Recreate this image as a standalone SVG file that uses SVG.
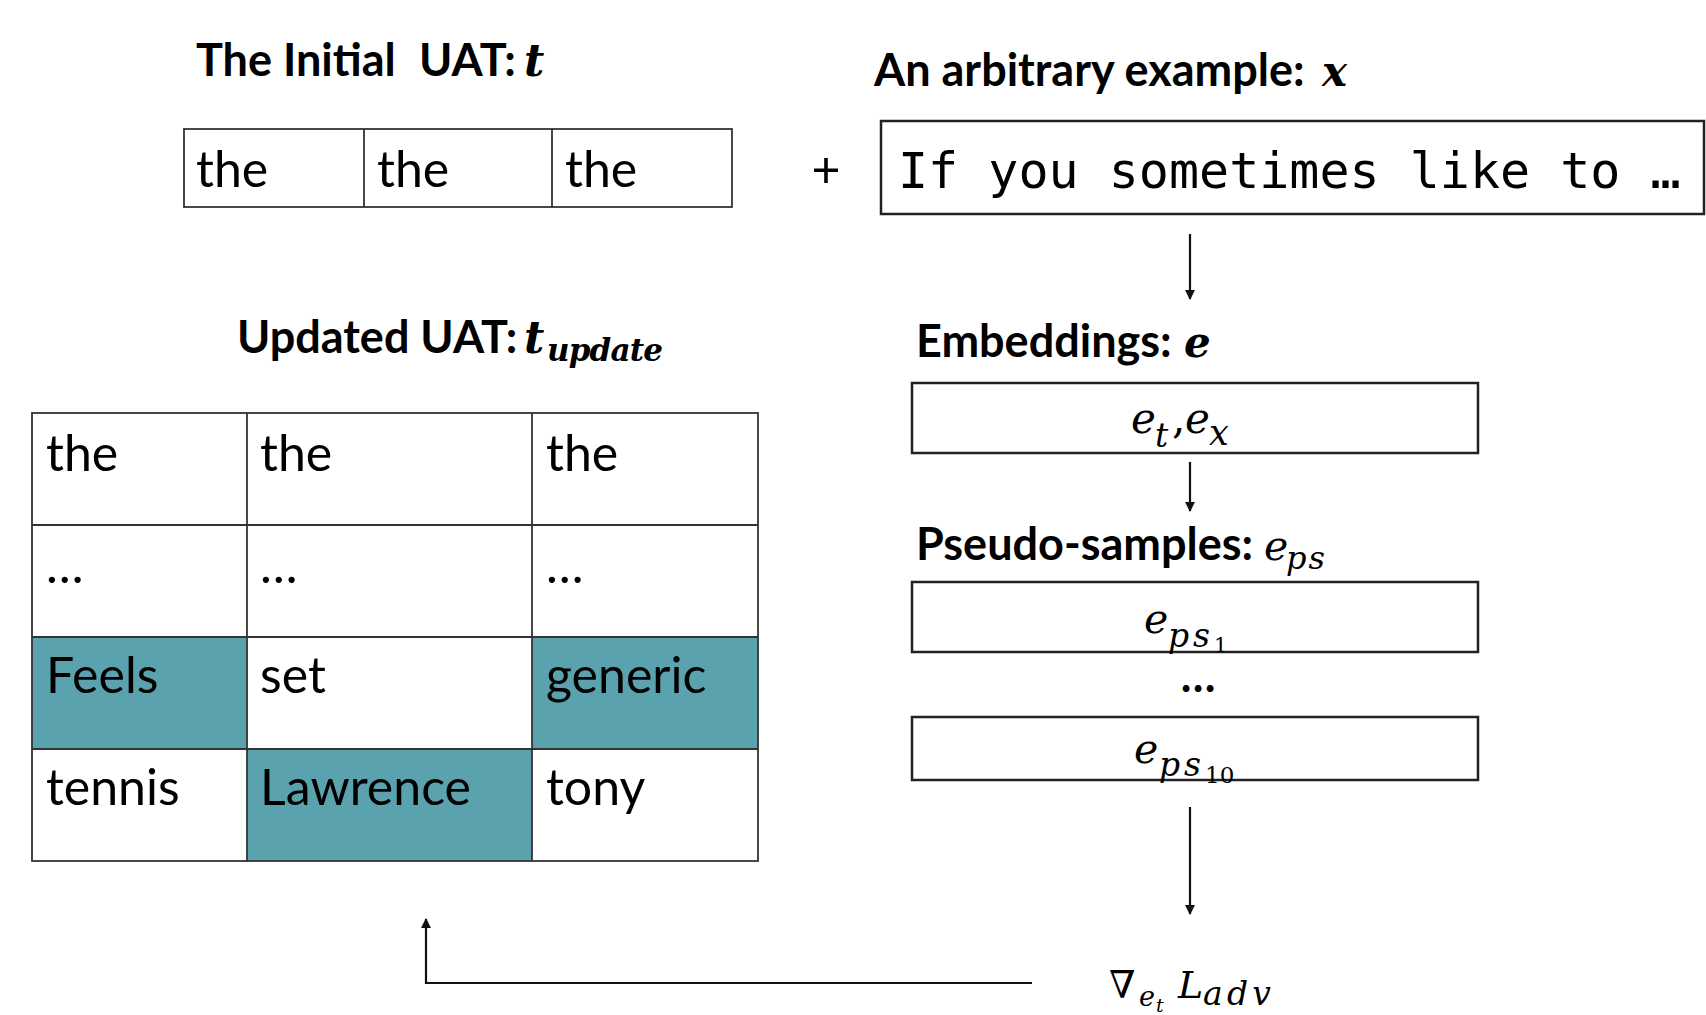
<svg xmlns="http://www.w3.org/2000/svg" width="1706" height="1015" viewBox="0 0 1706 1015">
<defs>
<style>
.title{font-family:Lato,"Liberation Sans",sans-serif;font-weight:bold;font-size:45px;fill:#000}
.cell{font-family:Lato,"Liberation Sans",sans-serif;font-size:50px;fill:#000}
.math{font-family:"DejaVu Serif","Liberation Serif",serif;font-style:italic;font-weight:normal;fill:#000}
.mb{font-family:"DejaVu Serif","Liberation Serif",serif;font-style:italic;font-weight:bold;fill:#000}
.up{font-style:normal}
.mono{font-family:"DejaVu Sans Mono","Liberation Mono",monospace;font-size:50px;fill:#000}
.box{fill:#fff;stroke:#222;stroke-width:2.5}
.grid{fill:none;stroke:#333;stroke-width:1.8}
.teal{fill:#5aa2ad}
.conn{fill:none;stroke:#111;stroke-width:2.2}
</style>
<marker id="ah" viewBox="0 0 10 10" refX="9" refY="5" markerWidth="4.5" markerHeight="4.5" orient="auto" markerUnits="strokeWidth">
<path d="M0,0 L10,5 L0,10 z" fill="#111"/>
</marker>
</defs>
<rect width="1706" height="1015" fill="#fff"/>

<g id="initial-uat">
<text class="title" x="196" y="76" font-size="44">The Initial<tspan x="419">UAT:</tspan><tspan class="mb" x="524" font-size="44">t</tspan></text>
<rect class="grid" x="184" y="129" width="548" height="78"/>
<line class="grid" x1="364" y1="129" x2="364" y2="207"/>
<line class="grid" x1="552" y1="129" x2="552" y2="207"/>
<text class="cell" x="196" y="187">the</text>
<text class="cell" x="377" y="187">the</text>
<text class="cell" x="565" y="187">the</text>
</g>

<g id="plus">
<text class="cell" x="826" y="187" text-anchor="middle">+</text>
</g>

<g id="example">
<text class="title" x="874" y="86">An arbitrary example:<tspan class="mb" x="1322" font-size="42">x</tspan></text>
<rect class="box" x="881" y="121" width="823" height="93"/>
<text class="mono" x="898" y="188">If you sometimes like to …</text>
</g>

<g id="embeddings">
<text class="title" x="916" y="357">Embeddings:<tspan class="mb" x="1184" font-size="42">e</tspan></text>
<rect class="box" x="912" y="383" width="566" height="70"/>
<text class="math" font-size="42" y="433"><tspan x="1131">e</tspan><tspan x="1155" y="447" font-size="33">t</tspan><tspan class="up" x="1172" y="433">,</tspan><tspan x="1185" y="433">e</tspan><tspan x="1209" y="445" font-size="35">x</tspan></text>
</g>

<g id="pseudo-samples">
<text class="title" x="916" y="560">Pseudo-samples:<tspan class="math" x="1264" font-size="41">e</tspan><tspan class="math" x="1286" y="569" font-size="32" textLength="39">ps</tspan></text>
<rect class="box" x="912" y="582" width="566" height="70"/>
<text class="math" font-size="41" y="633"><tspan x="1144">e</tspan><tspan x="1168" y="647" font-size="33" textLength="42">ps</tspan><tspan class="up" x="1214" y="652" font-size="21">1</tspan></text>
<text class="title" x="1198" y="692" text-anchor="middle" font-size="40">…</text>
<rect class="box" x="912" y="717" width="566" height="63"/>
<text class="math" font-size="41" y="763"><tspan x="1134">e</tspan><tspan x="1159" y="776" font-size="33" textLength="42">ps</tspan><tspan class="up" x="1205" y="783" font-size="23">10</tspan></text>
</g>

<g id="gradient">
<text class="math" font-size="38" y="998"><tspan class="up" x="1109">∇</tspan><tspan x="1139" y="1006" font-size="27">e</tspan><tspan x="1156" y="1012" font-size="19">t</tspan><tspan x="1178" y="998">L</tspan><tspan x="1203" y="1005" font-size="33" textLength="68">adv</tspan></text>
</g>

<g id="updated-uat">
<text class="title" x="237" y="353" font-size="42">Updated UAT:<tspan class="mb" x="524" font-size="44">t</tspan><tspan class="mb" x="547" y="361" font-size="31" textLength="116">update</tspan></text>
<rect class="teal" x="32" y="637" width="215" height="112"/>
<rect class="teal" x="532" y="637" width="226" height="112"/>
<rect class="teal" x="247" y="749" width="285" height="112"/>
<rect class="grid" x="32" y="413" width="726" height="448"/>
<line class="grid" x1="247" y1="413" x2="247" y2="861"/>
<line class="grid" x1="532" y1="413" x2="532" y2="861"/>
<line class="grid" x1="32" y1="525" x2="758" y2="525"/>
<line class="grid" x1="32" y1="637" x2="758" y2="637"/>
<line class="grid" x1="32" y1="749" x2="758" y2="749"/>
<text class="cell" x="46" y="471">the</text>
<text class="cell" x="260" y="471">the</text>
<text class="cell" x="546" y="471">the</text>
<text class="cell" x="46" y="583">…</text>
<text class="cell" x="260" y="583">…</text>
<text class="cell" x="546" y="583">…</text>
<text class="cell" x="46" y="693">Feels</text>
<text class="cell" x="260" y="693">set</text>
<text class="cell" x="546" y="693">generic</text>
<text class="cell" x="46" y="805">tennis</text>
<text class="cell" x="260" y="805">Lawrence</text>
<text class="cell" x="546" y="805">tony</text>
</g>

<g id="connectors">
<line class="conn" x1="1190" y1="234" x2="1190" y2="299" marker-end="url(#ah)"/>
<line class="conn" x1="1190" y1="462" x2="1190" y2="511" marker-end="url(#ah)"/>
<line class="conn" x1="1190" y1="807" x2="1190" y2="914" marker-end="url(#ah)"/>
<polyline class="conn" points="1032,983 426,983 426,919" marker-end="url(#ah)"/>
</g>
</svg>
